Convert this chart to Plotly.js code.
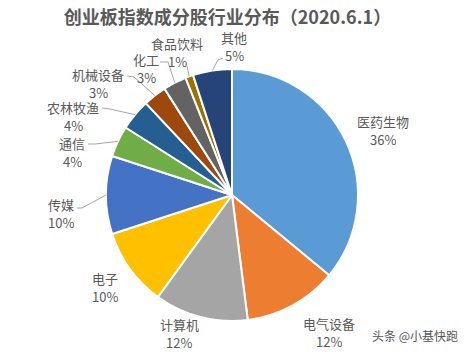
<!DOCTYPE html>
<html><head><meta charset="utf-8">
<script src="https://cdn.plot.ly/plotly-3.0.1.min.js"></script>
<style>html,body{margin:0;padding:0;background:#fff}#chart{width:469px;height:352px}</style>
</head><body><div id="chart"></div>
<script>
// ---- data ----
var categories = ["医药生物","电气设备","计算机","电子","传媒","通信","农林牧渔","机械设备","化工","食品饮料","其他"];
var values = [36,12,12,10,10,4,4,3,3,1,5];
var colors = ["#5B9BD5","#ED7D31","#A5A5A5","#FFC000","#4472C4","#70AD47","#255E91","#9E480E","#636363","#997300","#264478"];
var titleText = "创业板指数成分股行业分布（2020.6.1）";
var watermark = "头条 @小基快跑";

// ---- layout helpers (pixels) ----
var W = 469, H = 352;
var cx = 232, cy = 195, R = 126;
function px(x){return x/W;}
function py(y){return 1-y/H;}
// label positions: [x, name y, percent y] (layout only)
var labelPos = [[383,121,139],[329,323,341],[179,324,342],[105,278,296],[61,204,222],[72,143,161],[73,107,125],[98,74,92],[146,60,78],[177,43,61],[234,38,56]];
// leader-line starting points at the label side (null = no leader)
var leadStart = [null,null,null,null,[[77,208],[82,208]],[[88,144],[95,144]],[[102,108],[110,109]],[[127,76],[134,77]],[[160,62],[168,62]],[[187,66]],[[223,58],[218,60]]];

var total = values.reduce(function(a,b){return a+b;},0);
var annotations = [], shapes = [];
var cum = 0;
var lblFont = {family:"Noto Sans CJK SC, sans-serif",size:13,color:"#595959"};
categories.forEach(function(c,i){
  var mid = (cum + values[i]/2)/total*2*Math.PI;
  cum += values[i];
  var ex = cx + R*Math.sin(mid), ey = cy - R*Math.cos(mid);
  var pct = Math.round(values[i]/total*100) + "%";
  annotations.push({xref:"paper",yref:"paper",x:px(labelPos[i][0]),y:py(labelPos[i][1]),height:15,
    text:c,showarrow:false,xanchor:"center",yanchor:"middle",borderpad:0,font:lblFont});
  annotations.push({xref:"paper",yref:"paper",x:px(labelPos[i][0]),y:py(labelPos[i][2]),height:15,
    text:pct,showarrow:false,xanchor:"center",yanchor:"middle",borderpad:0,font:lblFont});
  if(leadStart[i]){
    var pts = leadStart[i].concat([[ex,ey]]);
    var d = pts.map(function(p,k){return (k?"L":"M")+px(p[0])+","+py(p[1]);}).join(" ");
    shapes.push({type:"path",xref:"paper",yref:"paper",path:d,line:{color:"#A6A6A6",width:1},layer:"above"});
  }
});
annotations.push({xref:"paper",yref:"paper",x:px(415),y:py(335),text:watermark,showarrow:false,
  xanchor:"center",yanchor:"middle",font:{family:"Noto Sans CJK SC, sans-serif",size:12,color:"#555555"}});

var trace = {type:"pie",labels:categories,values:values,sort:false,direction:"clockwise",rotation:0,
  marker:{colors:colors,line:{color:"#ffffff",width:2}},textinfo:"none",hoverinfo:"none",
  domain:{x:[px(cx-R),px(cx+R)],y:[py(cy+R),py(cy-R)]},showlegend:false};

var layout = {width:W,height:H,margin:{l:0,r:0,t:0,b:0},paper_bgcolor:"#fff",showlegend:false,
  title:{text:"<b>"+titleText+"</b>",x:0.485,xanchor:"center",y:py(18),yanchor:"middle",
    font:{family:"Noto Sans CJK SC, sans-serif",size:18,color:"#595959"}},
  annotations:annotations,shapes:shapes};
Plotly.newPlot("chart",[trace],layout,{staticPlot:true,displayModeBar:false});
</script></body></html>
